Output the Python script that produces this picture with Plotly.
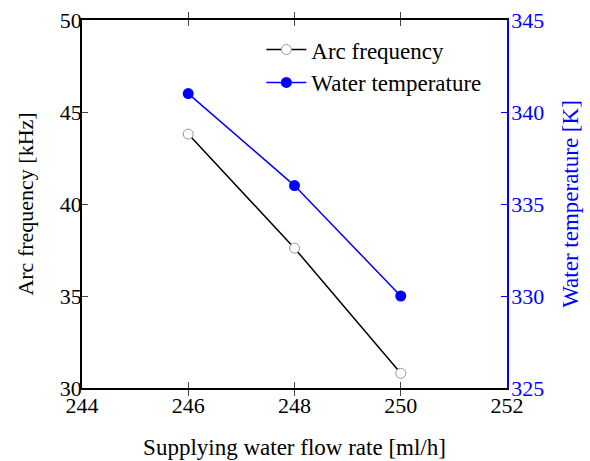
import plotly.graph_objects as go

flow_rate = [246, 248, 250]
arc_frequency = [43.8, 37.6, 30.8]
water_temperature = [341.0, 336.0, 330.0]

x_ticks = [244, 246, 248, 250, 252]
y1_ticks = [30, 35, 40, 45, 50]
y2_ticks = [325, 330, 335, 340, 345]

FONT = "Liberation Serif"
BLUE = "#0000ff"

fig = go.Figure()
fig.add_trace(go.Scatter(
    x=flow_rate, y=arc_frequency, name="Arc frequency", mode="lines+markers",
    line=dict(color="black", width=1.5),
    marker=dict(symbol="circle", size=10, color="white", line=dict(color="#999999", width=1)),
    yaxis="y"))
fig.add_trace(go.Scatter(
    x=flow_rate, y=water_temperature, name="Water temperature", mode="lines+markers",
    line=dict(color=BLUE, width=1.5),
    marker=dict(symbol="circle", size=11, color=BLUE),
    yaxis="y2"))

fig.update_layout(
    width=590, height=461,
    margin=dict(l=82, r=83, t=20, b=73),
    paper_bgcolor="white", plot_bgcolor="white",
    font=dict(family=FONT, size=20, color="black"),
    showlegend=True,
    legend=dict(x=0.422, y=0.978, xanchor="left", yanchor="top",
                bgcolor="rgba(0,0,0,0)", font=dict(family=FONT, size=23),
                itemwidth=40, tracegroupgap=0),
    xaxis=dict(range=[244, 252], tickvals=x_ticks, ticks="inside", ticklen=6,
               showline=True, linecolor="black", linewidth=1.5, mirror="allticks",
               showgrid=False, zeroline=False, ticklabelstandoff=-3, automargin=False,
               title=dict(text="Supplying water flow rate [ml/h]", font=dict(size=23), standoff=22),
               tickfont=dict(size=22)),
    yaxis=dict(range=[30, 50], tickvals=y1_ticks, ticks="inside", ticklen=6,
               showline=True, linecolor="black", linewidth=1.5,
               showgrid=False, zeroline=False, ticklabelstandoff=-6, automargin=False,
               title=dict(text="Arc frequency [kHz]", font=dict(size=22), standoff=20),
               tickfont=dict(size=22)),
    yaxis2=dict(range=[325, 345], tickvals=y2_ticks, ticks="inside", ticklen=6,
                overlaying="y", side="right", anchor="x",
                showline=True, linecolor=BLUE, linewidth=1.5, tickcolor=BLUE,
                showgrid=False, zeroline=False, ticklabelstandoff=-2, automargin=False,
                title=dict(text="Water temperature [K]", font=dict(size=23, color=BLUE), standoff=19),
                tickfont=dict(size=22, color=BLUE)),
)

fig.write_html("out.html", config={"displayModeBar": False},
               post_script="document.body.style.margin='0';")
